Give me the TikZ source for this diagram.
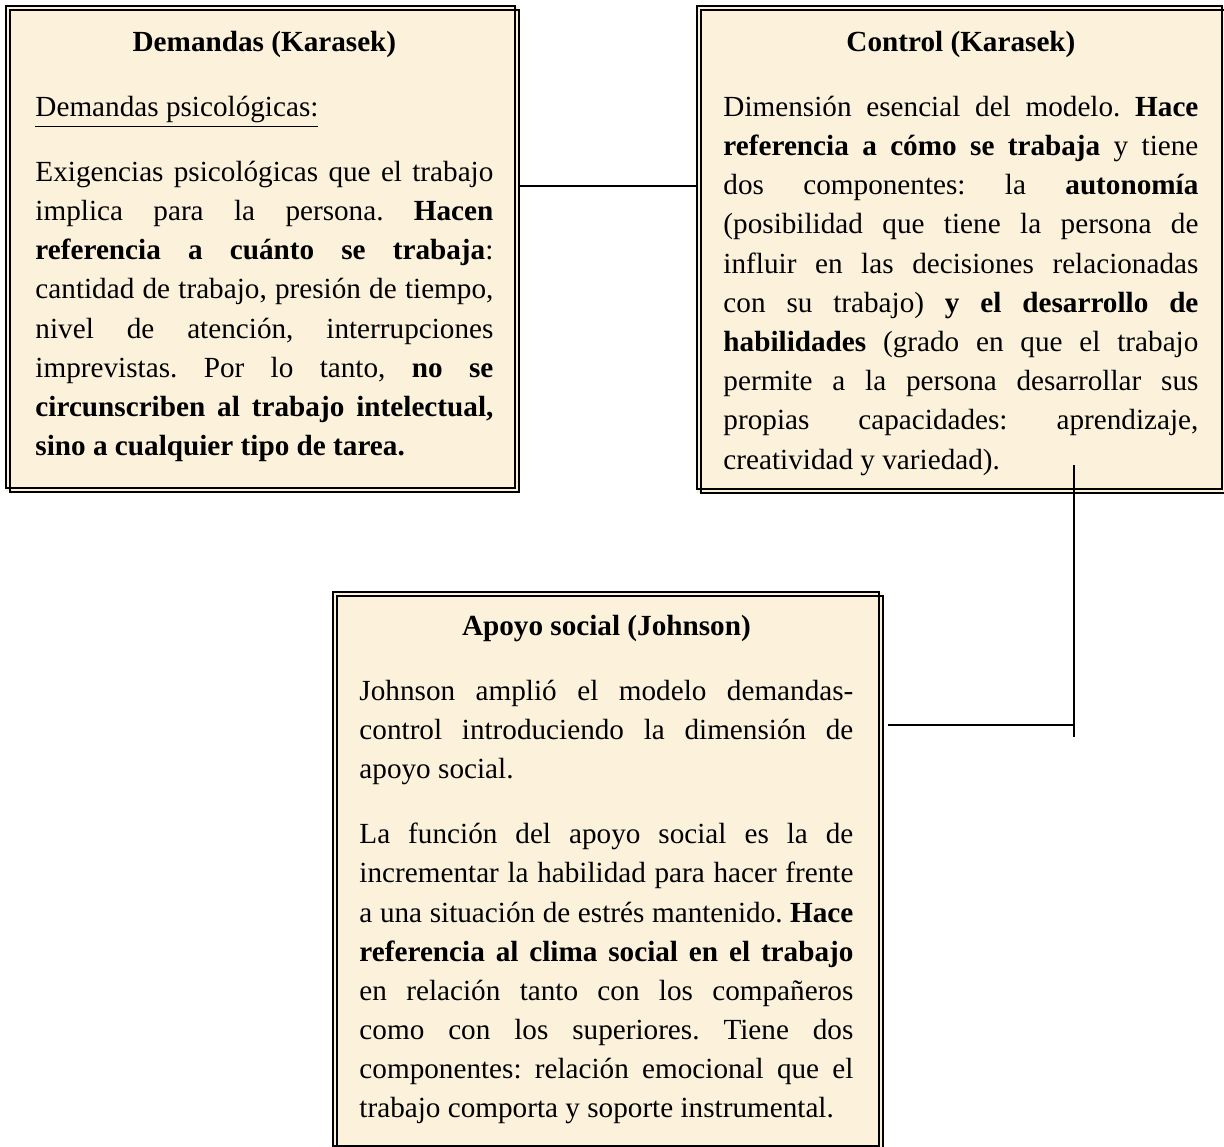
\documentclass[tikz,border=0pt]{standalone}
\usepackage{fontspec}
\setmainfont{Liberation Serif}
\usepackage{tikz}
\usetikzlibrary{positioning,fit}
\definecolor{parchment}{RGB}{252,242,220}
\newcommand{\PixelSize}{0.411pt}
\tikzset{
  box/.style={fill=parchment, draw=none, inner sep=0pt, outer sep=0pt},
  heavyline/.style={line width=1.05pt},
  lightline/.style={line width=0.45pt},
  link/.style={line width=0.8pt},
  bodytext/.style={inner sep=0pt, anchor=north west, align=justify,
    font=\fontsize{12pt}{16.1pt}\selectfont,
    execute at begin node={\frenchspacing\setlength{\parskip}{10.6pt}\setlength{\parindent}{0pt}\tolerance=9999}}
}
\begin{document}
\begin{tikzpicture}[x=\PixelSize, y=-\PixelSize]
\useasboundingbox (0,0) rectangle (1224,1147);
% boxes
\node[box, fit={(6,6) (519,492)}] (dem) {};
\node[box, fit={(697,6) (1226,493)}] (con) {};
\node[box, fit={(333,592) (883,1150)}] (apo) {};
% double borders
\foreach \b in {dem,con,apo}{
\draw[heavyline] (\b.north west) rectangle ([shift={(-4,-4)}]\b.south east);
\draw[lightline] ([shift={(4,4)}]\b.north west) rectangle (\b.south east);
}
% texts
\node[bodytext, text width=188.2pt] (demtxt) at (35,23.6) {%
{\centering\bfseries\strut Demandas (Karasek)\par}
\underline{Demandas psicológicas:}\par
Exigencias psicológicas que el trabajo\linebreak implica para la persona. \textbf{Hacen\linebreak referencia a cuánto se trabaja}:\linebreak cantidad de trabajo, presión de tiempo,\linebreak nivel de atención, interrupciones\linebreak imprevistas. Por lo tanto, \textbf{no se\linebreak circunscriben al trabajo intelectual,\linebreak sino a cualquier tipo de tarea.}};
\node[bodytext, text width=195.2pt] (contxt) at (723,23.6) {%
{\centering\bfseries\strut Control (Karasek)\par}
Dimensión esencial del modelo. \textbf{Hace\linebreak referencia a cómo se trabaja} y tiene\linebreak dos componentes: la \textbf{autonomía}\linebreak (posibilidad que tiene la persona de\linebreak influir en las decisiones relacionadas\linebreak con su trabajo) \textbf{y el desarrollo de\linebreak habilidades} (grado en que el trabajo\linebreak permite a la persona desarrollar sus\linebreak propias capacidades: aprendizaje,\linebreak creatividad y variedad).};
\node[bodytext, text width=203pt] (apotxt) at (359,607.6) {%
{\centering\bfseries\strut Apoyo social (Johnson)\par}
Johnson amplió el modelo demandas-\linebreak control introduciendo la dimensión de\linebreak apoyo social.\par
La función del apoyo social es la de\linebreak incrementar la habilidad para hacer frente\linebreak a una situación de estrés mantenido. \textbf{Hace\linebreak referencia al clima social en el trabajo}\linebreak en relación tanto con los compañeros\linebreak como con los superiores. Tiene dos\linebreak componentes: relación emocional que el\linebreak trabajo comporta y soporte instrumental.};
% connectors
\coordinate (toprow) at (0,186);
\draw[link] (dem.east |- toprow) -- (con.west |- toprow);
\coordinate (ctop) at (1074,465);
\coordinate (cbot) at (1074,737);
\coordinate (cmid) at (1074,725);
\coordinate (apoR) at ([shift={(5,0)}]apo.east);
\draw[link] (ctop) -- (cbot);
\draw[link] (apoR |- cmid) -- (cmid);
\end{tikzpicture}
\end{document}
